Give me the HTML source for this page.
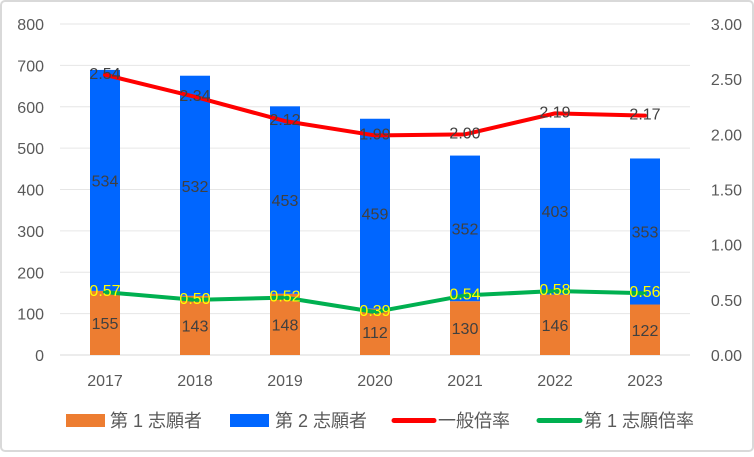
<!DOCTYPE html>
<html><head><meta charset="utf-8"><style>
body{margin:0;background:#fff}
svg text{font-family:"Liberation Sans","Noto Sans CJK JP",sans-serif}
</style></head><body>
<svg width="754" height="452" xmlns="http://www.w3.org/2000/svg" id="chart">
<rect x="1" y="1" width="752" height="450" rx="4" fill="#fff" stroke="#d9d9d9" stroke-width="2"/>
<g id="grid"></g><g id="bars"></g><g id="lines"></g><g id="labels"></g><g id="axes"></g>
<g id="legend">
<rect x="66" y="414" width="39" height="13" fill="#ED7D31"/>
<text x="110" y="427" font-size="18" fill="#595959">第 1 志願者</text>
<rect x="230" y="414" width="39" height="13" fill="#0066FF"/>
<text x="275" y="427" font-size="18" fill="#595959">第 2 志願者</text>
<line x1="394" y1="420.5" x2="434" y2="420.5" stroke="#FF0000" stroke-width="5" stroke-linecap="round"/>
<text x="438" y="427" font-size="18" fill="#595959">一般倍率</text>
<line x1="539" y1="420.5" x2="580" y2="420.5" stroke="#00B050" stroke-width="5" stroke-linecap="round"/>
<text x="584" y="427" font-size="18" fill="#595959">第 1 志願倍率</text>
</g>
</svg>
<script>
const categories=["2017","2018","2019","2020","2021","2022","2023"];
const firstApplicants=[155,143,148,112,130,146,122];
const secondApplicants=[534,532,453,459,352,403,353];
const generalRatio=[2.54,2.34,2.12,1.99,2.00,2.19,2.17];
const firstRatio=[0.57,0.50,0.52,0.39,0.54,0.58,0.56];
const leftTicks=[0,100,200,300,400,500,600,700,800];
const rightTicks=["0.00","0.50","1.00","1.50","2.00","2.50","3.00"];
const NS="http://www.w3.org/2000/svg";
const x0=60,x1=690,y0=355,y1=24;
const band=(x1-x0)/categories.length;
const xC=i=>x0+band*(i+0.5);
const yL=v=>y0-(v/800)*(y0-y1);
const yR=v=>y0-(v/3)*(y0-y1);
function mk(tag,attrs,parent,txt){const e=document.createElementNS(NS,tag);for(const k in attrs)e.setAttribute(k,attrs[k]);if(txt!==undefined)e.textContent=txt;document.getElementById(parent).appendChild(e);return e;}
leftTicks.forEach(t=>{
 const g=mk('line',{x1:x0,x2:x1,y1:yL(t),y2:yL(t),stroke:t===0?'#d9d9d9':'#e6e6e6','stroke-width':1},'grid');
 
 
 const l=mk('text',{x:44,y:yL(t)+6,'font-size':16,fill:'#595959','text-anchor':'end'},'axes',t);
 
 
});
rightTicks.forEach(t=>{
 const l=mk('text',{x:742,y:yR(+t)+6,'font-size':16,fill:'#595959','text-anchor':'end'},'axes',t);
 
 
});
const bw=30;
categories.forEach((c,i)=>{
 const cx=xC(i);
 const a=firstApplicants[i],b=secondApplicants[i];
 const r1=mk('rect',{x:cx-bw/2,y:yL(a),width:bw,height:yL(0)-yL(a),fill:'#ED7D31'},'bars');
 
 
 const r2=mk('rect',{x:cx-bw/2,y:yL(a+b),width:bw,height:yL(a)-yL(a+b),fill:'#0066FF'},'bars');
 
 
 const t1=mk('text',{x:cx,y:(yL(0)+yL(a))/2+6,'font-size':16,fill:'#404040','text-anchor':'middle'},'labels',a);
 
 
 const t2=mk('text',{x:cx,y:(yL(a)+yL(a+b))/2+6,'font-size':16,fill:'#404040','text-anchor':'middle'},'labels',b);
 
 
 const xl=mk('text',{x:cx,y:386,'font-size':16,fill:'#595959','text-anchor':'middle'},'axes',c);
 
 
});
function line(vals,color,name,lblColor){
 const p=mk('polyline',{points:vals.map((v,i)=>xC(i)+','+yR(v)).join(' '),fill:'none',stroke:color,'stroke-width':4,'stroke-linejoin':'round','stroke-linecap':'round'},'lines');
 
 
 vals.forEach((v,i)=>{
  const t=mk('text',{x:xC(i),y:yR(v)+4,'font-size':16,fill:lblColor,'text-anchor':'middle'},'labels',v.toFixed(2));
  
  
 });
}
line(generalRatio,'#FF0000','general-ratio-line','#404040');
line(firstRatio,'#00B050','first-ratio-line','#FFFF00');
</script>
</body></html>
